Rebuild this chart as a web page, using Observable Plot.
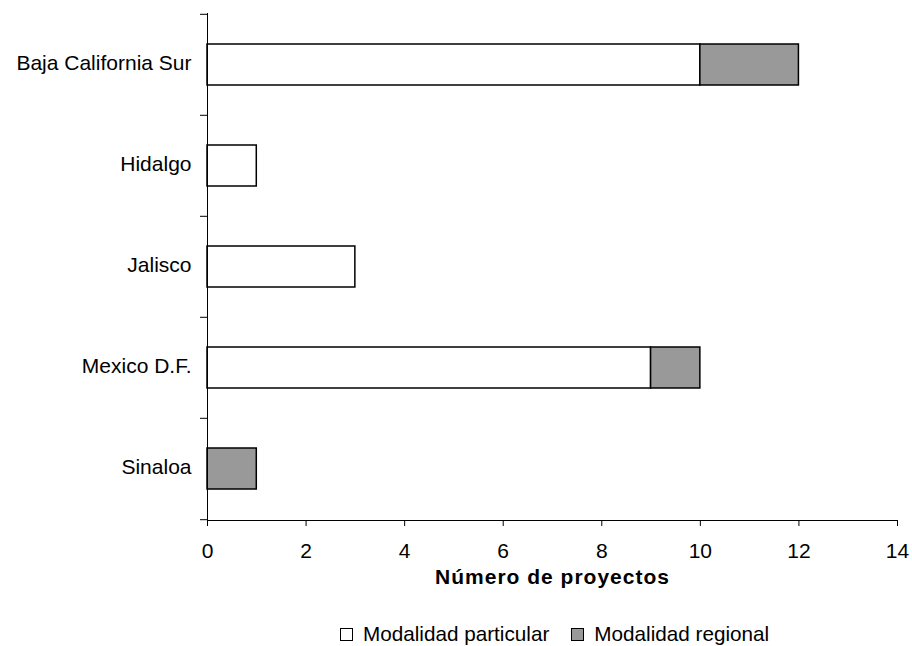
<!DOCTYPE html>
<html>
<head>
<meta charset="utf-8">
<script src="https://cdn.jsdelivr.net/npm/d3@7"></script>
<script src="https://cdn.jsdelivr.net/npm/@observablehq/plot@0.6"></script>
<style>
  html, body { margin: 0; padding: 0; background: #fff; }
  body { width: 912px; height: 646px; overflow: hidden; font-family: "Liberation Sans", Arial, sans-serif; color: #000; }
  #legend { display: flex; align-items: center; height: 25px; padding-top: 9px; padding-left: 340px; font-size: 20.7px; line-height: 24px; white-space: nowrap; }
  #legend .sw { width: 11px; height: 11px; border: 1px solid #000; box-sizing: content-box; margin-right: 10px; margin-top: 1px; }
  #legend .item { display: flex; align-items: center; margin-right: 22px; }
</style>
</head>
<body>
<div id="chart"></div>
<div id="legend"></div>
<script>
// ---- data ----
const states = ["Baja California Sur", "Hidalgo", "Jalisco", "Mexico D.F.", "Sinaloa"];
const particular = [10, 1, 3, 9, 0];
const regional = [2, 0, 0, 1, 1];
const seriesNames = ["Modalidad particular", "Modalidad regional"];
const seriesColors = ["#ffffff", "#999999"];
const xTicks = [0, 2, 4, 6, 8, 10, 12, 14];
const xTitle = "Número de proyectos";

// ---- table ----
const rows = [];
states.forEach((s, i) => {
  if (particular[i] > 0) rows.push({state: s, series: seriesNames[0], value: particular[i]});
  if (regional[i] > 0) rows.push({state: s, series: seriesNames[1], value: regional[i]});
});

const W = 912, H = 612, mTop = 13, mBottom = 92, mLeft = 207, mRight = 15;
const step = (H - mTop - mBottom) / states.length;

const chart = Plot.plot({
  width: W,
  height: H,
  marginTop: mTop,
  marginBottom: mBottom,
  marginLeft: mLeft,
  marginRight: mRight,
  style: {fontFamily: "'Liberation Sans', Arial, sans-serif", fontSize: "21px", color: "#000", background: "#fff"},
  x: {domain: [0, 14], ticks: xTicks, label: null},
  y: {domain: states, paddingInner: 0.59, paddingOuter: 0.295, label: null},
  color: {domain: seriesNames, range: seriesColors},
  marks: [
    Plot.barX(rows, Plot.stackX({
      x: "value", y: "state", fill: "series", order: seriesNames,
      stroke: "#000", strokeWidth: 1.5
    })),
    Plot.frame({anchor: "left", stroke: "#000", strokeWidth: 1}),
    Plot.frame({anchor: "bottom", stroke: "#000", strokeWidth: 1}),
    // category boundary ticks (Excel style)
    Plot.ruleY(states, {y: d => d, x1: 0, x2: 0, insetLeft: -7, dy: -step / 2, stroke: "#000"}),
    Plot.ruleY(states.slice(-1), {y: d => d, x1: 0, x2: 0, insetLeft: -7, dy: step / 2, stroke: "#000"}),
    Plot.axisY({tickSize: 0, tickPadding: 16, fontSize: 21, dy: -2, label: null}),
    Plot.axisX({ticks: xTicks, tickSize: 6, tickPadding: 17, fontSize: 21, label: null, stroke: "#000"}),
    Plot.text([xTitle], {frameAnchor: "bottom", dy: 63, fontWeight: "bold", fontSize: 21, fill: "#000"})
  ]
});
document.getElementById("chart").appendChild(chart);

// letter spacing on the axis title
d3.select(chart).selectAll("text").filter(function() { return this.textContent === xTitle; })
  .style("letter-spacing", "1px");

// ---- legend ----
const legend = d3.select("#legend");
seriesNames.forEach((name, i) => {
  const item = legend.append("div").attr("class", "item");
  item.append("div").attr("class", "sw").style("background", seriesColors[i]);
  item.append("span").text(name);
});
</script>
</body>
</html>
